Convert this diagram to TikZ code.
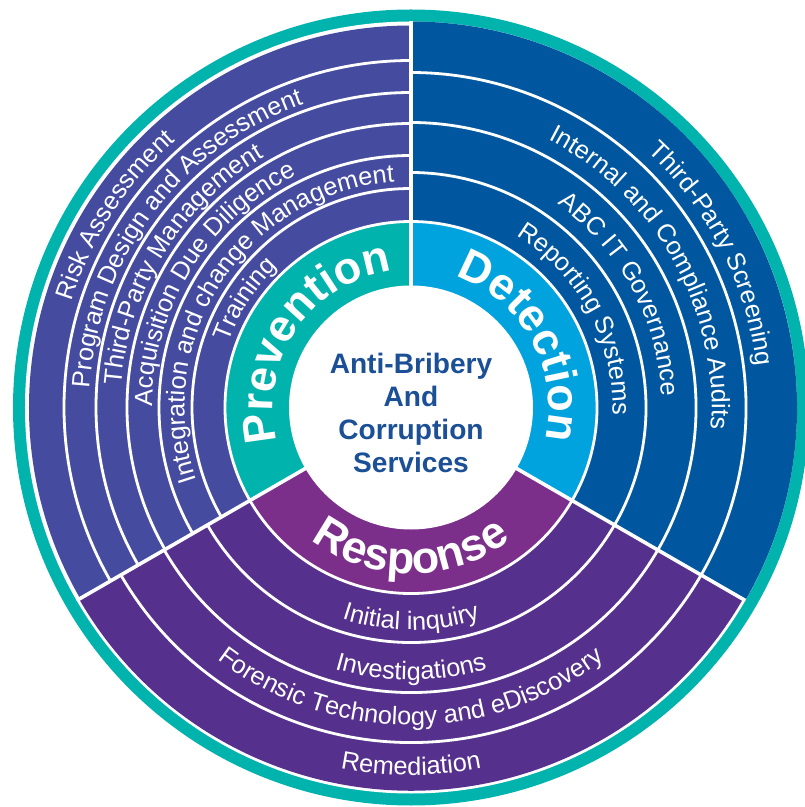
\documentclass[tikz,border=0pt]{standalone}
\usepackage{fontspec}
\setmainfont{Liberation Sans}
\usetikzlibrary{decorations.text}

\definecolor{ringteal}{HTML}{00B3AC}
\definecolor{prevpurple}{HTML}{454CA0}
\definecolor{detblue}{HTML}{00579F}
\definecolor{detlight}{HTML}{00A3DD}
\definecolor{respmagenta}{HTML}{7B2E8A}
\definecolor{resppurple}{HTML}{55308C}
\definecolor{titleblue}{HTML}{1B4F96}

\newcommand{\bandfont}{\color{white}\fontsize{18}{20}\selectfont}
\newcommand{\corefont}{\color{white}\bfseries\fontsize{32}{34}\selectfont}

% text along a clockwise arc (letters point outwards)
\newcommand{\cwlabel}[4]{%
  \path[decorate, decoration={text along path, text align=center, text={|#1|#4}}]
    ({#3+70}:#2) arc[start angle={#3+70}, end angle={#3-70}, radius=#2];}
% text along an anticlockwise arc (letters point inwards)
\newcommand{\ccwlabel}[4]{%
  \path[decorate, decoration={text along path, text align=center, text={|#1|#4}}]
    ({#3-70}:#2) arc[start angle={#3-70}, end angle={#3+70}, radius=#2];}

\begin{document}
\begin{tikzpicture}[
    sep/.style={white, line width=0.7mm},
    divider/.style={white, line width=0.9mm},
  ]
  \useasboundingbox (-10.275,-9.9875) rectangle (9.85,10.1875);

  % Outer ring
  \fill[ringteal] (0,0) circle (9.95);
  \fill[white] (0,0) circle (9.65);

  % Sectors
  \fill[prevpurple] (0,0) -- (90:9.55) arc[start angle=90, end angle=210, radius=9.55] -- cycle;
  \fill[detblue] (0,0) -- (-30:9.65) arc[start angle=-30, end angle=90, radius=9.65] -- cycle;
  \fill[resppurple] (0,0) -- (210:9.58) arc[start angle=210, end angle=330, radius=9.58] -- cycle;

  % Inner ring
  \fill[ringteal] (0,0) -- (90:4.65) arc[start angle=90, end angle=210, radius=4.65] -- cycle;
  \fill[detlight] (0,0) -- (-30:4.65) arc[start angle=-30, end angle=90, radius=4.65] -- cycle;
  \fill[respmagenta] (0,0) -- (210:4.65) arc[start angle=210, end angle=330, radius=4.65] -- cycle;

  % Band lines
  \foreach \r in {4.65,5.475,6.3,7.1,7.875,8.675}
    \draw[sep] (90:\r) arc[start angle=90, end angle=210, radius=\r];
  \foreach \r in {4.65,5.875,7.125,8.375}{
    \draw[sep] (-30:\r) arc[start angle=-30, end angle=90, radius=\r];
    \draw[sep] (210:\r) arc[start angle=210, end angle=330, radius=\r];
  }

  % Centre
  \fill[white] (0,0) circle (3.05);
  \foreach \a in {90,210,330}
    \draw[divider] (\a:3) -- (\a:9.65);
  \node[titleblue, font=\bfseries\fontsize{20}{23.5}\selectfont, align=center] (centre) at (0,-0.14)
    {Anti-Bribery\\And\\Corruption\\Services};

  % Inner ring labels
  \cwlabel{\corefont}{3.45}{146}{Prevention}
  \cwlabel{\corefont}{3.45}{29}{Detection}
  \ccwlabel{\corefont}{4.15}{270}{Response}

  % Prevention bands
  \cwlabel{\bandfont}{8.89}{147}{Risk Assessment}
  \cwlabel{\bandfont}{8.05}{143}{Program Design and Assessment}
  \cwlabel{\bandfont}{7.26}{148}{Third-Party Management}
  \cwlabel{\bandfont}{6.47}{148}{Acquisition Due Diligence}
  \cwlabel{\bandfont}{5.66}{146.5}{Integration and change Management}
  \cwlabel{\bandfont}{4.84}{147}{Training}

  % Detection bands
  \cwlabel{\bandfont}{8.7}{27}{Third-Party Screening}
  \cwlabel{\bandfont}{7.52}{29.4}{Internal and Compliance Audits}
  \cwlabel{\bandfont}{6.27}{28.4}{ABC IT Governance}
  \cwlabel{\bandfont}{5.04}{28.2}{Reporting Systems}

  % Response bands
  \ccwlabel{\bandfont}{5.56}{270}{Initial inquiry}
  \ccwlabel{\bandfont}{6.81}{270}{Investigations}
  \ccwlabel{\bandfont}{7.94}{270}{Forensic Technology and eDiscovery}
  \ccwlabel{\bandfont}{9.19}{270}{Remediation}
\end{tikzpicture}
\end{document}
